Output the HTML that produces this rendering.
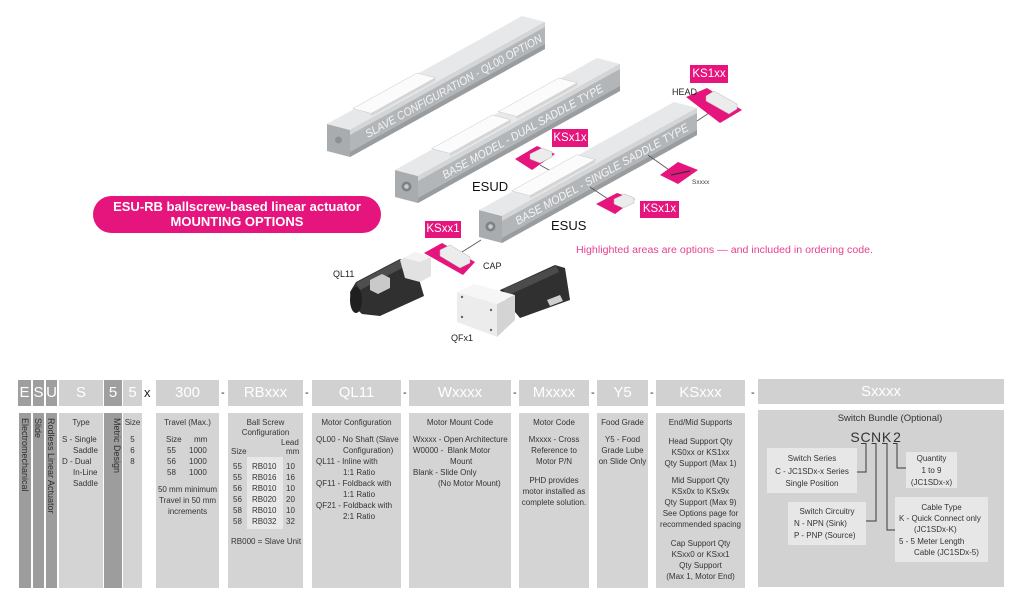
<!DOCTYPE html>
<html><head><meta charset="utf-8">
<style>
*{margin:0;padding:0;box-sizing:border-box}
html,body{width:1024px;height:597px;overflow:hidden;background:#fff;font-family:"Liberation Sans",Arial,sans-serif}
.abs{position:absolute}
.h{position:absolute;top:380px;height:26px;background:#d1d1d1;color:#fff;font-size:15px;line-height:26px;text-align:center;white-space:nowrap}
.hd{background:#9f9f9f}
.sep{position:absolute;top:386px;font-size:11px;color:#222;line-height:14px}
.c{position:absolute;top:413px;height:175px;background:#d4d4d4;font-size:8px;color:#343434}
.cd{background:#9d9d9d}
.c div{position:absolute;left:0;right:0;text-align:center;line-height:11px;white-space:nowrap}
.c div.l{text-align:left;right:auto}
.v{position:absolute;top:5px;left:0;width:100%;writing-mode:vertical-rl;font-size:9px;line-height:12px;color:#2e2e2e;white-space:nowrap}
.ib{position:absolute;background:#e7e7e7;font-size:8px;color:#343434}
.ib div{position:absolute;left:0;right:0;text-align:center;line-height:12px;white-space:nowrap}
.ib div.l{text-align:left;right:auto}
.pl{position:absolute;background:#e6147d;color:#fff;font-size:11.5px;text-align:center}
</style></head><body>

<svg class="abs" style="left:0;top:0" width="1024" height="365" viewBox="0 0 1024 365">
<g font-family="Liberation Sans, Arial, sans-serif">
<!-- SLAVE bar -->
<polygon points="350,157 350,130 327,124 327,151" fill="#a9acaf"/>
<circle cx="338.5" cy="140" r="3.5" fill="#8e9194"/>
<polygon points="350,130 545,22 522,16 327,124" fill="#e6e8ea"/>
<polygon points="350,157 545,49 545,22 350,130" fill="#b3b6b9"/>
<polygon points="350,130 545,22 545,27 350,135" fill="#d3d5d7"/>
<polygon points="350,152 545,44 545,49 350,157" fill="#9a9da0"/>
<polygon points="371.1,113.4 435.5,77.8 435.5,80.8 371.1,116.4" fill="#d6d6d6"/>
<polygon points="371.1,113.4 435.5,77.8 417,73 352.7,108.6" fill="#fbfbfb" stroke="#c8c8c8" stroke-width="0.5"/>
<text transform="translate(368,138) rotate(-29)" font-size="11.5" font-style="italic" fill="#f4f4f4" textLength="200" lengthAdjust="spacingAndGlyphs">SLAVE CONFIGURATION - QL00 OPTION</text>

<!-- DUAL bar -->
<polygon points="418,203 418,176 395,170 395,197" fill="#a9acaf"/>
<circle cx="406.5" cy="186.5" r="5" fill="#7f8285"/>
<circle cx="406.5" cy="186.5" r="2.3" fill="#c8cacc"/>
<polygon points="418,176 620,64 597,58 395,170" fill="#e6e8ea"/>
<polygon points="418,203 620,91 620,64 418,176" fill="#b3b6b9"/>
<polygon points="418,176 620,64 620,69 418,181" fill="#d3d5d7"/>
<polygon points="418,198 620,86 620,91 418,203" fill="#9a9da0"/>
<polygon points="450,153.4 510.6,119.8 510.6,122.8 450,156.4" fill="#d6d6d6"/>
<polygon points="450,153.4 510.6,119.8 492.2,115 431.6,148.6" fill="#fbfbfb" stroke="#c8c8c8" stroke-width="0.5"/>
<polygon points="516.7,116.4 577.3,82.8 577.3,85.8 516.7,119.4" fill="#d6d6d6"/>
<polygon points="516.7,116.4 577.3,82.8 558.9,78 498.3,111.6" fill="#fbfbfb" stroke="#c8c8c8" stroke-width="0.5"/>
<text transform="translate(445,179) rotate(-29)" font-size="11.5" font-style="italic" fill="#f4f4f4" textLength="182" lengthAdjust="spacingAndGlyphs">BASE MODEL - DUAL SADDLE TYPE</text>

<!-- KSx1x upper pad -->
<polygon points="515,159 537,146 555,154 532,170" fill="#e6147d"/>
<polygon points="530,154 542,148 552,152 552,157 540,163 530,159" fill="#ececec" stroke="#b5b5b5" stroke-width="0.5"/>
<line x1="540" y1="165" x2="558" y2="175" stroke="#555" stroke-width="0.8"/>

<!-- SINGLE bar -->
<polygon points="502,243 502,216 479,210 479,237" fill="#a9acaf"/>
<circle cx="490.5" cy="226.5" r="5" fill="#7f8285"/>
<circle cx="490.5" cy="226.5" r="2.3" fill="#c8cacc"/>
<polygon points="502,216 697,108 674,102 479,210" fill="#e6e8ea"/>
<polygon points="502,243 697,135 697,108 502,216" fill="#b3b6b9"/>
<polygon points="502,216 697,108 697,113 502,221" fill="#d3d5d7"/>
<polygon points="502,238 697,130 697,135 502,243" fill="#9a9da0"/>
<polygon points="529.9,195.7 595.3,159.5 595.3,162.5 529.9,198.7" fill="#d6d6d6"/>
<polygon points="529.9,195.7 595.3,159.5 576.9,154.7 511.5,190.9" fill="#fbfbfb" stroke="#c8c8c8" stroke-width="0.5"/>
<text transform="translate(518,225) rotate(-29)" font-size="11.5" font-style="italic" fill="#f4f4f4" textLength="196" lengthAdjust="spacingAndGlyphs">BASE MODEL - SINGLE SADDLE TYPE</text>

<!-- HEAD pad -->
<line x1="697" y1="121" x2="709" y2="113" stroke="#555" stroke-width="0.8"/>
<polygon points="686,97 707,88 742,110 720,123" fill="#e6147d"/>
<polygon points="706,96 714,91 737,104 737,109 729,114 706,101" fill="#ececec" stroke="#b5b5b5" stroke-width="0.5"/>
<text x="672" y="95" font-size="9" fill="#222">HEAD</text>

<!-- Sxxxx pad -->
<line x1="648" y1="155" x2="672" y2="172" stroke="#555" stroke-width="0.8"/>
<polygon points="660,175 678,162 698,170 678,184" fill="#e6147d"/>
<line x1="671" y1="175" x2="690" y2="171" stroke="#333" stroke-width="1.2"/>
<text x="692" y="184" font-size="6.5" fill="#444">Sxxxx</text>

<!-- KSx1x lower pad -->
<line x1="590" y1="187" x2="608" y2="199" stroke="#555" stroke-width="0.8"/>
<polygon points="596,204 617,193 635,199 615,214" fill="#e6147d"/>
<polygon points="614,199 625,194 634,198 634,203 623,208 614,204" fill="#ececec" stroke="#b5b5b5" stroke-width="0.5"/>

<!-- CAP pad -->
<line x1="462" y1="252" x2="481" y2="240" stroke="#555" stroke-width="0.8"/>
<polygon points="424,253 442,243 475,262 463,275" fill="#e6147d"/>
<polygon points="440,250 450,245 470,257 470,263 460,268 440,256" fill="#ececec" stroke="#b5b5b5" stroke-width="0.5"/>
<text x="483" y="269" font-size="9" fill="#222">CAP</text>

<!-- QL11 motor -->
<polygon points="350,292 356,282 400,259 414,262 424,296 380,316 362,314 351,304" fill="#303030"/>
<polygon points="356,283 400,260 404,267 360,290" fill="#4e4e4e"/>
<ellipse cx="356" cy="300" rx="6" ry="13" fill="#1f1f1f"/>
<polygon points="370,280 382,274 390,278 390,288 378,294 370,290" fill="#c9c9c9"/>
<polygon points="400,260 415,252 431,257 431,276 420,282 405,278" fill="#e2e2e2"/>
<polygon points="415,252 431,257 420,262 404,258" fill="#f3f3f3"/>
<text x="333" y="277" font-size="9" fill="#222">QL11</text>

<!-- QFx1 motor -->
<polygon points="500,290 555,265 565,268 570,300 520,318 510,306" fill="#303030"/>
<polygon points="503,289 556,266 559,272 507,296" fill="#4b4b4b"/>
<polygon points="547,300 560,295 563,301 550,306" fill="#cfcfcf"/>
<polygon points="457,292 497,304 497,337 457,322" fill="#ececec"/>
<polygon points="497,304 515,295 515,320 497,337" fill="#d4d4d4"/>
<polygon points="457,292 474,284 515,295 497,304" fill="#f6f6f6"/>
<circle cx="462" cy="297" r="1.2" fill="#666"/><circle cx="462" cy="317" r="1.2" fill="#666"/><circle cx="491" cy="310" r="1.2" fill="#666"/><circle cx="491" cy="330" r="1.2" fill="#666"/>
<text x="451" y="341" font-size="9" fill="#222">QFx1</text>

<text x="472" y="191" font-size="13" fill="#111">ESUD</text>
<text x="551" y="230" font-size="13" fill="#111">ESUS</text>
<text x="576" y="253" font-size="10" fill="#e8418f" textLength="297" lengthAdjust="spacingAndGlyphs">Highlighted areas are options — and included in ordering code.</text>
</g>
</svg>

<div class="pl" style="left:690px;top:65px;width:38px;height:18px;line-height:18px">KS1xx</div>
<div class="pl" style="left:552px;top:129px;width:36px;height:18px;line-height:18px">KSx1x</div>
<div class="pl" style="left:640px;top:201px;width:39px;height:17px;line-height:17px">KSx1x</div>
<div class="pl" style="left:425px;top:221px;width:36px;height:17px;line-height:17px">KSxx1</div>

<div class="abs" style="left:93px;top:196px;width:288px;height:37px;border-radius:19px;background:#e6147d;color:#fff;font-weight:bold;font-size:13px;line-height:15px;text-align:center;padding-top:3px">ESU-RB ballscrew-based linear actuator<br>MOUNTING OPTIONS</div>

<!-- header row -->
<div class="h hd" style="left:18px;width:13px">E</div>
<div class="h hd" style="left:33px;width:11px">S</div>
<div class="h hd" style="left:46px;width:11px">U</div>
<div class="h" style="left:59px;width:44px">S</div>
<div class="h hd" style="left:104px;width:18px">5</div>
<div class="h" style="left:123px;width:19px">5</div>
<div class="sep" style="left:144px;top:386px;font-size:13px">x</div>
<div class="h" style="left:156px;width:63px">300</div>
<div class="sep" style="left:221px">-</div>
<div class="h" style="left:228px;width:75px">RBxxx</div>
<div class="sep" style="left:305px">-</div>
<div class="h" style="left:312px;width:89px">QL11</div>
<div class="sep" style="left:403px">-</div>
<div class="h" style="left:409px;width:102px">Wxxxx</div>
<div class="sep" style="left:513px">-</div>
<div class="h" style="left:519px;width:70px">Mxxxx</div>
<div class="sep" style="left:591px">-</div>
<div class="h" style="left:597px;width:51px">Y5</div>
<div class="sep" style="left:650px">-</div>
<div class="h" style="left:656px;width:89px">KSxxx</div>
<div class="sep" style="left:751px">-</div>
<div class="h" style="left:758px;width:246px;top:379px;height:25px;line-height:25px">Sxxxx</div>

<!-- lower row -->
<div class="c cd" style="left:19px;width:12px"><span class="v">Electromechanical</span></div>
<div class="c cd" style="left:33px;width:11px"><span class="v">Slide</span></div>
<div class="c cd" style="left:46px;width:11px"><span class="v">Rodless Linear Actuator</span></div>
<div class="c" style="left:59px;width:44px">
<div style="top:3.5px">Type</div>
<div class="l" style="top:21px;left:3px">S - Single</div>
<div class="l" style="top:32px;left:14px">Saddle</div>
<div class="l" style="top:43px;left:3px">D - Dual</div>
<div class="l" style="top:54px;left:14px">In-Line</div>
<div class="l" style="top:65px;left:14px">Saddle</div>
</div>
<div class="c cd" style="left:104px;width:18px"><span class="v" style="left:1px">Metric Design</span></div>
<div class="c" style="left:123px;width:19px">
<div style="top:3.5px">Size</div>
<div style="top:21px">5</div>
<div style="top:32px">6</div>
<div style="top:43px">8</div>
</div>
<div class="c" style="left:156px;width:63px">
<div style="top:3.5px">Travel (Max.)</div>
<div class="l" style="top:21px;left:10px">Size</div><div class="l" style="top:21px;left:38px">mm</div>
<div class="l" style="top:32px;left:11px">55</div><div class="l" style="top:32px;left:33px">1000</div>
<div class="l" style="top:43px;left:11px">56</div><div class="l" style="top:43px;left:33px">1000</div>
<div class="l" style="top:54px;left:11px">58</div><div class="l" style="top:54px;left:33px">1000</div>
<div style="top:71px">50 mm minimum</div>
<div style="top:82px">Travel in 50 mm</div>
<div style="top:93px">increments</div>
</div>
<div class="c" style="left:228px;width:75px">
<span class="abs" style="left:19px;top:44px;width:36px;height:72px;background:#e8e8e8"></span>
<div style="top:3.5px">Ball Screw</div>
<div style="top:13.5px">Configuration</div>
<div class="l" style="top:23.5px;left:53px">Lead</div>
<div class="l" style="top:33px;left:3px">Size</div><div class="l" style="top:33px;left:58px">mm</div>
<div class="l" style="top:47.5px;left:5px">55</div><div class="l" style="top:47.5px;left:24px">RB010</div><div class="l" style="top:47.5px;left:58px">10</div>
<div class="l" style="top:58.5px;left:5px">55</div><div class="l" style="top:58.5px;left:24px">RB016</div><div class="l" style="top:58.5px;left:58px">16</div>
<div class="l" style="top:69.5px;left:5px">56</div><div class="l" style="top:69.5px;left:24px">RB010</div><div class="l" style="top:69.5px;left:58px">10</div>
<div class="l" style="top:80.5px;left:5px">56</div><div class="l" style="top:80.5px;left:24px">RB020</div><div class="l" style="top:80.5px;left:58px">20</div>
<div class="l" style="top:91.5px;left:5px">58</div><div class="l" style="top:91.5px;left:24px">RB010</div><div class="l" style="top:91.5px;left:58px">10</div>
<div class="l" style="top:102.5px;left:5px">58</div><div class="l" style="top:102.5px;left:24px">RB032</div><div class="l" style="top:102.5px;left:58px">32</div>
<div class="l" style="top:122.5px;left:3px">RB000 = Slave Unit</div>
</div>
<div class="c" style="left:312px;width:89px">
<div style="top:3.5px">Motor Configuration</div>
<div class="l" style="top:20.5px;left:4px">QL00 - No Shaft (Slave</div>
<div class="l" style="top:31.5px;left:31px">Configuration)</div>
<div class="l" style="top:42.5px;left:4px">QL11 - Inline with</div>
<div class="l" style="top:53.5px;left:31px">1:1 Ratio</div>
<div class="l" style="top:64.5px;left:4px">QF11 - Foldback with</div>
<div class="l" style="top:75.5px;left:31px">1:1 Ratio</div>
<div class="l" style="top:87px;left:4px">QF21 - Foldback with</div>
<div class="l" style="top:98px;left:31px">2:1 Ratio</div>
</div>
<div class="c" style="left:409px;width:102px">
<div style="top:3.5px">Motor Mount Code</div>
<div class="l" style="top:20.5px;left:4px">Wxxxx - Open Architecture</div>
<div class="l" style="top:31.5px;left:4px">W0000 -&nbsp; Blank Motor</div>
<div class="l" style="top:42.5px;left:41px">Mount</div>
<div class="l" style="top:53.5px;left:4px">Blank - Slide Only</div>
<div class="l" style="top:64.5px;left:29px">(No Motor Mount)</div>
</div>
<div class="c" style="left:519px;width:70px">
<div style="top:3.5px">Motor Code</div>
<div style="top:20.5px">Mxxxx - Cross</div>
<div style="top:31.5px">Reference to</div>
<div style="top:42.5px">Motor P/N</div>
<div style="top:61.5px">PHD provides</div>
<div style="top:72.5px">motor installed as</div>
<div style="top:83.5px">complete solution.</div>
</div>
<div class="c" style="left:597px;width:51px">
<div style="top:3.5px">Food Grade</div>
<div style="top:20.5px">Y5 - Food</div>
<div style="top:31.5px">Grade Lube</div>
<div style="top:42.5px">on Slide Only</div>
</div>
<div class="c" style="left:656px;width:89px">
<div style="top:3.5px">End/Mid Supports</div>
<div style="top:22.5px">Head Support Qty</div>
<div style="top:33.5px">KS0xx or KS1xx</div>
<div style="top:44.5px">Qty Support (Max 1)</div>
<div style="top:61.5px">Mid Support Qty</div>
<div style="top:72.5px">KSx0x to KSx9x</div>
<div style="top:83.5px">Qty Support (Max 9)</div>
<div style="top:94.5px">See Options page for</div>
<div style="top:105.5px">recommended spacing</div>
<div style="top:124.5px">Cap Support Qty</div>
<div style="top:135.5px">KSxx0 or KSxx1</div>
<div style="top:146.5px">Qty Support</div>
<div style="top:157.5px">(Max 1, Motor End)</div>
</div>

<!-- switch bundle -->
<div class="abs" style="left:758px;top:410px;width:246px;height:177px;background:#d2d2d2"></div>
<div class="abs" style="left:758px;top:413px;width:264px;font-size:9.5px;color:#343434;text-align:center;line-height:12px">Switch Bundle (Optional)</div>
<div class="ib" style="left:767px;top:448px;width:90px;height:45px">
<div style="top:5px">Switch Series</div>
<div style="top:17.5px">C - JC1SDx-x Series</div>
<div style="top:30px">Single Position</div>
</div>
<div class="ib" style="left:906px;top:452px;width:51px;height:36px">
<div style="top:1px">Quantity</div>
<div style="top:13px">1 to 9</div>
<div style="top:25px">(JC1SDx-x)</div>
</div>
<div class="ib" style="left:788px;top:502px;width:78px;height:43px">
<div style="top:4px">Switch Circuitry</div>
<div class="l" style="top:16px;left:6px">N - NPN (Sink)</div>
<div class="l" style="top:28px;left:6px">P - PNP (Source)</div>
</div>
<div class="ib" style="left:895px;top:497px;width:93px;height:65px">
<div style="top:5px">Cable Type</div>
<div class="l" style="top:15.5px;left:4px">K - Quick Connect only</div>
<div class="l" style="top:27px;left:19px">(JC1SDx-K)</div>
<div class="l" style="top:38.5px;left:4px">5 - 5 Meter Length</div>
<div class="l" style="top:50px;left:19px">Cable (JC1SDx-5)</div>
</div>
<svg class="abs" style="left:0;top:0" width="1024" height="597">
<g font-family="Liberation Sans, Arial, sans-serif" font-size="14" fill="#333" text-anchor="middle">
<text x="855" y="442">S</text><text x="865.5" y="442">C</text><text x="876" y="442">N</text><text x="886.5" y="442">K</text><text x="897" y="442">2</text>
</g>
<g stroke="#3a3a3a" stroke-width="1" fill="none">
<polyline points="861,443.5 866,443.5 866,472 857,472"/>
<polyline points="871.5,443.5 876,443.5 876,521 866,521"/>
<polyline points="882,443.5 887,443.5 887,530 895,530"/>
<polyline points="893,443.5 897,443.5 897,468 906,468"/>
</g>
</svg>
</body></html>
